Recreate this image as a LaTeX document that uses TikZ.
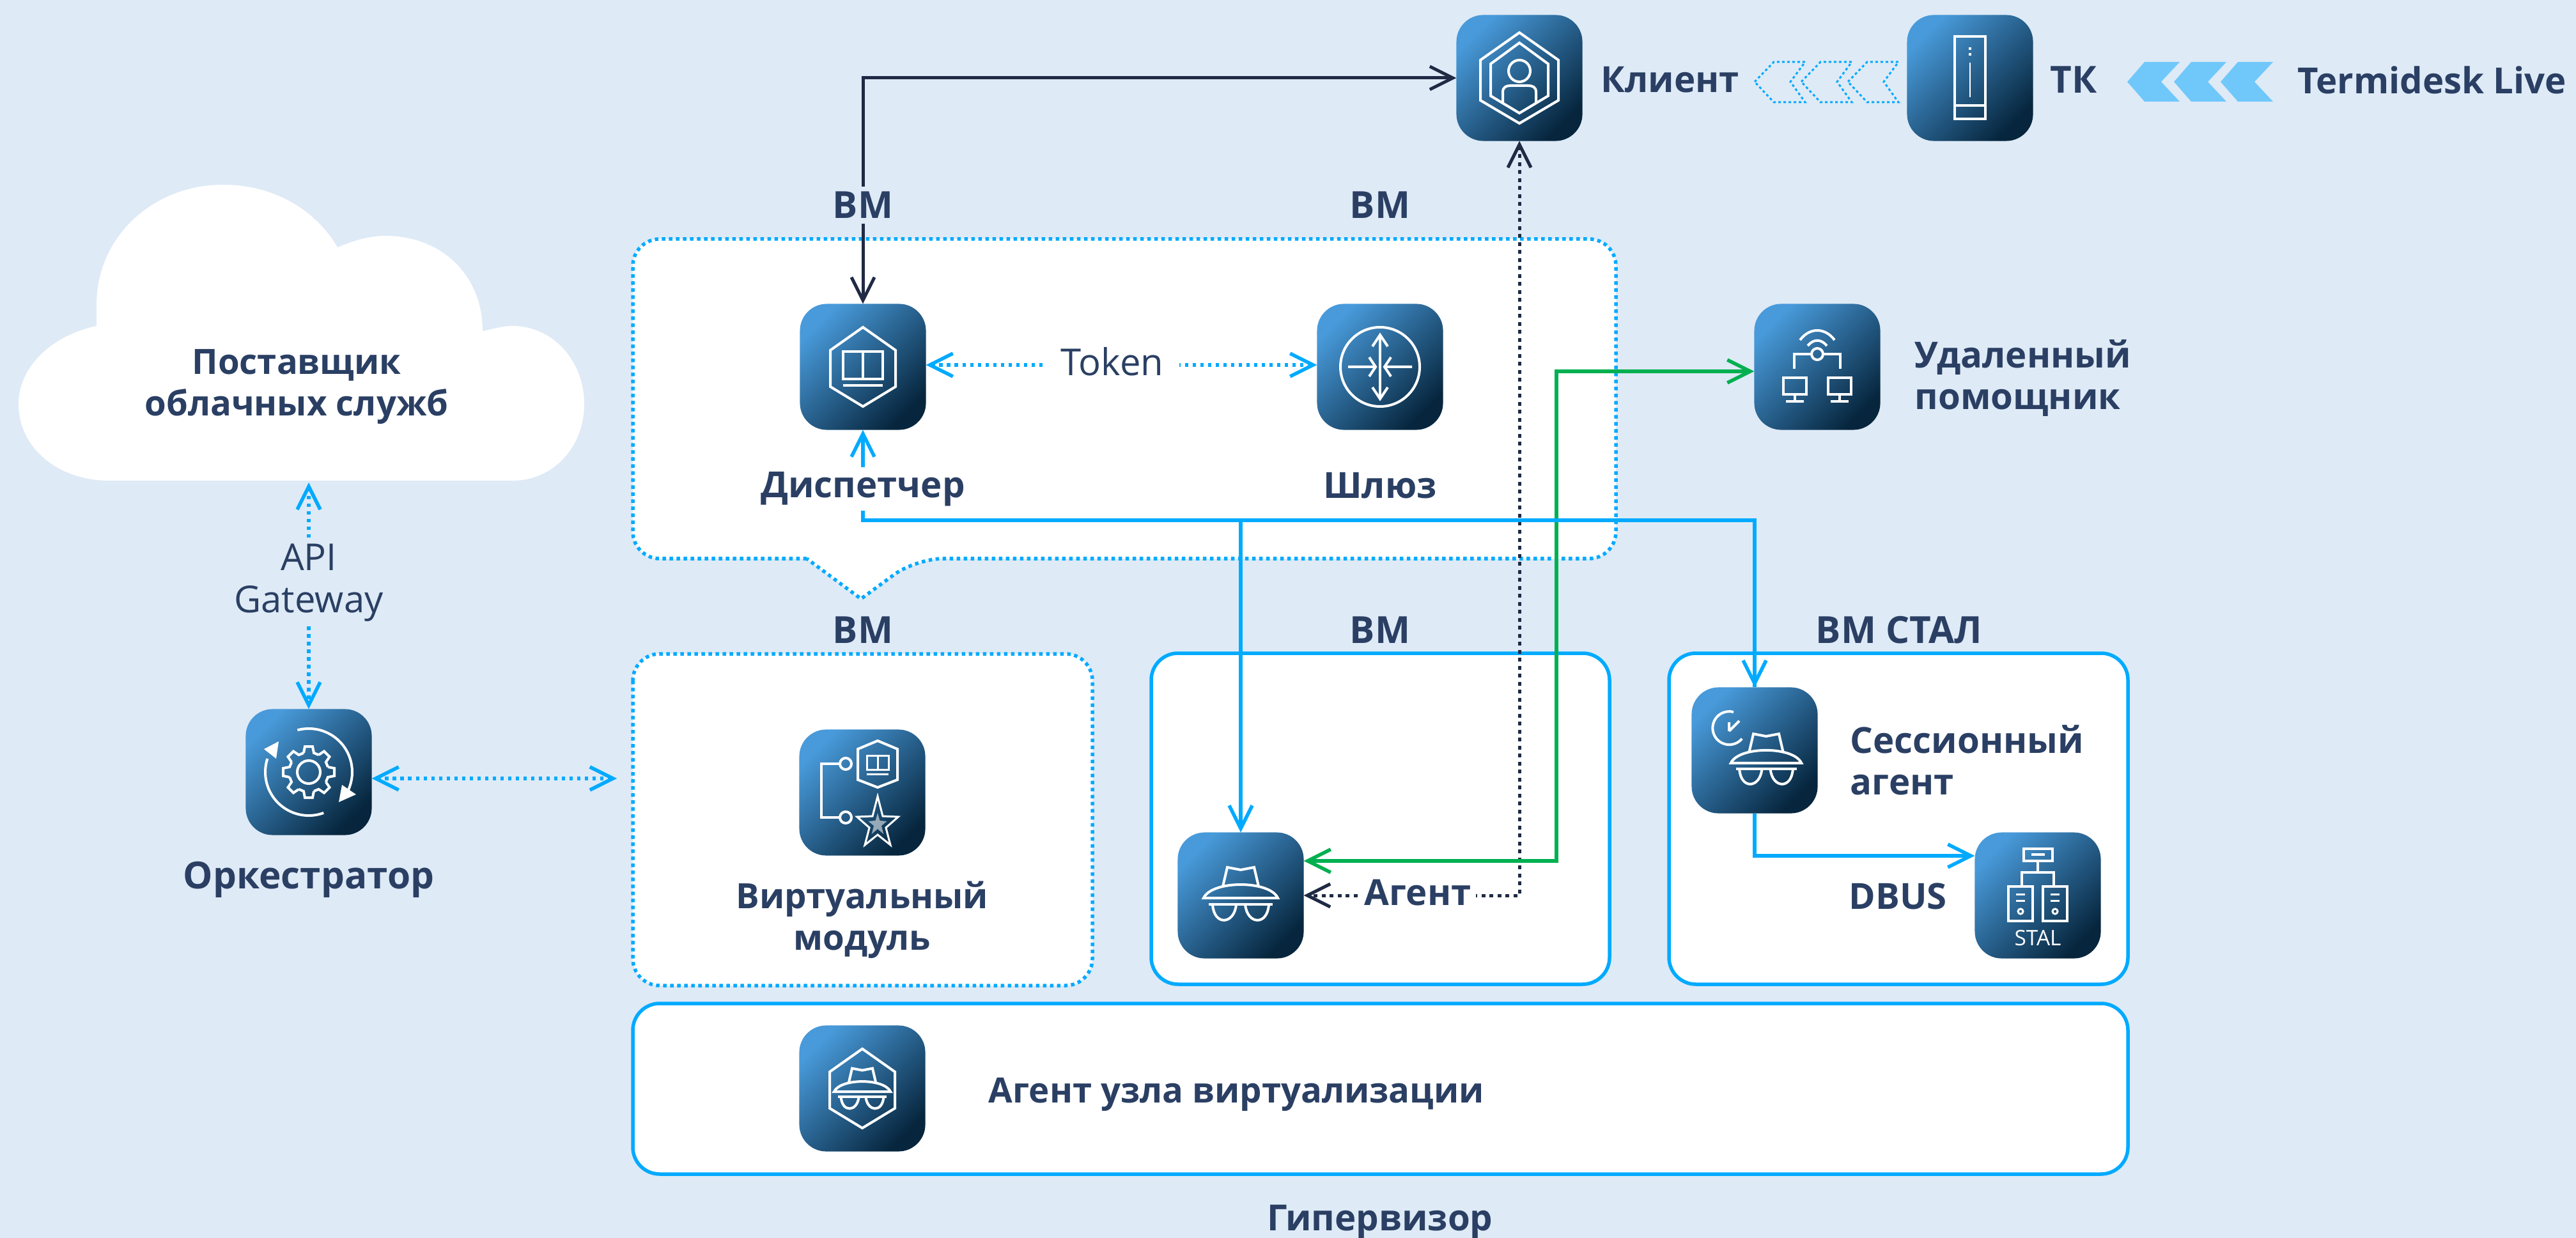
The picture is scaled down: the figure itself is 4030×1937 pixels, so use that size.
\documentclass[tikz,border=0pt]{standalone}
\usepackage{fontspec}
\setmainfont{Open Sans}
\usetikzlibrary{arrows.meta}

\definecolor{pagebg}{HTML}{DEEAF6}
\definecolor{inkblue}{HTML}{2A3F63}
\definecolor{linkblue}{HTML}{00AAFF}
\definecolor{linkdark}{HTML}{1F2A44}
\definecolor{linkgreen}{HTML}{00B050}
\definecolor{chevblue}{HTML}{70C8FA}
\definecolor{icontop}{HTML}{489ADA}
\definecolor{iconmid}{HTML}{26648F}
\definecolor{iconbot}{HTML}{07263E}

\tikzset{
  >={Straight Barb[length=0.36cm,width=0.36cm]},
  iconbox/.style={minimum size=1.97cm, inner sep=0pt, outer sep=0pt, rounded corners=0.42cm,
    top color=icontop, middle color=iconmid, bottom color=iconbot, shading angle=45},
  glyph/.style={draw=white, line width=0.04cm, line join=miter},
  title/.style={font=\fontsize{16}{18.5}\selectfont\bfseries, text=inkblue, align=center, inner sep=0pt},
  titlesmall/.style={title, font=\fontsize{15.5}{18.5}\selectfont\bfseries},
  titlelarge/.style={title, font=\fontsize{16.6}{18.5}\selectfont\bfseries},
  plain/.style={font=\fontsize{16.5}{18.8}\selectfont, text=inkblue, align=center, inner sep=0pt},
  panel/.style={draw=linkblue, fill=white, line width=0.055cm, rounded corners=0.42cm},
  panelfine/.style={panel, dash pattern=on 0.055cm off 0.055cm},
  bluelink/.style={draw=linkblue, line width=0.055cm},
  bluedots/.style={bluelink, dash pattern=on 0.055cm off 0.065cm},
  darklink/.style={draw=linkdark, line width=0.05cm},
  darkdots/.style={darklink, dash pattern=on 0.06cm off 0.065cm},
  greenlink/.style={draw=linkgreen, line width=0.055cm},
}

\newcommand\spyhat{
  \draw[glyph] (-28,-14) -- (-21,-44) -- (0,-40) -- (21,-44) -- (28,-14);
  \draw[glyph] (-58,4) .. controls (-45,-24) and (45,-24) .. (58,4) -- cycle;
  \draw[glyph] (-50,14) -- (50,14);
  \draw[glyph] (-44,14) .. controls (-42,48) and (-10,46) .. (-7,14);
  \draw[glyph] (44,14) .. controls (42,48) and (10,46) .. (7,14);
}
\newcommand\hexfort{
  \draw[glyph] (0,-62) -- (51,-26) -- (51,31) -- (0,62) -- (-51,31) -- (-51,-26) -- cycle;
}
\newcommand\boardglyph{
  \draw[glyph] (-31,-24) rectangle (31,19);
  \draw[glyph] (0,-24) -- (0,19);
  \draw[glyph] (-31,29) -- (31,29);
}

\begin{document}
\begin{tikzpicture}[x=0.01cm,y=-0.01cm]

  \useasboundingbox (0,0) rectangle (4030,1937);
  \fill[pagebg] (0,0) rectangle (4030,1937);

  % cloud
  \fill[white] (171,752) .. controls (90,752) and (29,700) .. (29,632)
    .. controls (29,575) and (80,525) .. (151,510) -- (151,477)
    .. controls (151,370) and (240,289) .. (349,289)
    .. controls (430,289) and (495,330) .. (528,387)
    .. controls (550,378) and (575,369) .. (603,369)
    .. controls (690,369) and (755,430) .. (755,518)
    .. controls (770,515) and (785,510) .. (802,510)
    .. controls (865,510) and (914,565) .. (914,632)
    .. controls (914,700) and (865,752) .. (802,752) -- cycle;

  % panels
  \draw[panelfine] (1262,874) -- (990,874) -- (990,374) -- (2528,374) -- (2528,874) -- (1433,874)
    [sharp corners] -- (1347,937) -- cycle;
  \draw[panelfine] (990,1023) rectangle (1709,1542);
  \draw[panel] (1801,1022) rectangle (2518,1540);
  \draw[panel] (2611,1022) rectangle (3329,1540);
  \draw[panel] (990,1570) rectangle (3329,1837);

  % icons
  \node[iconbox] (client) at (2377,122) {};
  \node[iconbox] (thin) at (3082,122) {};
  \node[iconbox] (disp) at (1350,574) {};
  \node[iconbox] (gate) at (2159,574) {};
  \node[iconbox] (helper) at (2843,574) {};
  \node[iconbox] (orch) at (483,1208) {};
  \node[iconbox] (vmod) at (1349,1240) {};
  \node[iconbox] (agent) at (1941,1401) {};
  \node[iconbox] (sess) at (2745,1174) {};
  \node[iconbox] (stal) at (3188,1401) {};
  \node[iconbox] (hostagent) at (1349,1703) {};

  \coordinate (cloudbase) at (483,755);
  \coordinate (busleft) at (1350,814);
  \coordinate (greenbend) at (2435,1347);
  \coordinate (greentop) at (2435,581);
  \coordinate (vmodin) at (965,1218);
  \coordinate (tokenline) at (1740,571);
  \coordinate (dbusline) at (2745,1339);

  % links
  \draw[darklink,<->] (disp.north) |- (client.west);
  \draw[darkdots,<->] (client.south) |- (agent.east);
  \draw[greenlink,<->] (greenbend -| agent.east) -- (greenbend) -- (greentop) -- (greentop -| helper.west);
  \draw[bluelink,<-] (disp.south) -- (busleft) -| (sess.north);
  \draw[bluelink,->] (sess.north |- busleft) -- (sess.north);
  \draw[bluelink,->] (agent.north |- busleft) -- (agent.north);
  \draw[bluelink,->] (sess.south) -- (dbusline) -- (dbusline -| stal.west);
  \draw[bluedots,<->] (tokenline -| disp.east) -- (tokenline -| gate.west);
  \draw[bluedots,<->] (cloudbase) -- (orch.north);
  \draw[bluedots,<->] (vmodin -| orch.east) -- (vmodin);

  % chevrons
  \foreach \i in {0,73,146} {
    \fill[chevblue] (3328+\i,128) -- (3355+\i,97) -- (3410+\i,97) -- (3381+\i,128) -- (3410+\i,159) -- (3355+\i,159) -- cycle;
    \draw[linkblue, line width=0.03cm, dash pattern=on 0.04cm off 0.04cm]
      (2745+\i,128) -- (2775+\i,97) -- (2824+\i,97) -- (2801+\i,128) -- (2824+\i,160) -- (2775+\i,160) -- cycle;
  }

  % labels
  \node[title, anchor=west] (clientlab) at (2504,125) {Клиент};
  \node[titlelarge, anchor=west] (thinlab) at (3207,125) {ТК};
  \node[title, anchor=west] (livelab) at (3594,125) {Termidesk Live};
  \node[titlelarge, fill=pagebg, inner sep=0.08cm] (vmdisp) at (1350,321) {ВМ};
  \node[titlelarge] (vmgate) at (2159,321) {ВМ};
  \node[title, fill=white, inner sep=0.07cm] (displab) at (1350,765) {Диспетчер};
  \node[title] (gatelab) at (2159,760) {Шлюз};
  \node[plain, fill=white, inner xsep=0.25cm, inner ysep=0.05cm] (tokenlab) at (1740,566) {Token};
  \node[title, anchor=west, align=left] (helperlab) at (2995,592) {Удаленный\\помощник};
  \node[titlesmall] (cloudlab) at (464,605) {Поставщик\\облачных служб};
  \node[plain, fill=pagebg, inner sep=0.07cm] (apilab) at (483,912) {API\\Gateway};
  \node[titlelarge] (orchlab) at (483,1376) {Оркестратор};
  \node[titlelarge] (vmvirt) at (1350,986) {ВМ};
  \node[titlelarge] (vmagent) at (2159,986) {ВМ};
  \node[titlelarge] (vmstal) at (2971,986) {ВМ СТАЛ};
  \node[titlesmall] (vmodlab) at (1349,1439) {Виртуальный\\модуль};
  \node[title, fill=white, inner xsep=0.08cm, inner ysep=0.05cm] (agentlab) at (2218,1397) {Агент};
  \node[title, anchor=west, align=left] (sesslab) at (2894,1189) {Сессионный\\агент};
  \node[title, anchor=west] (dbuslab) at (2892,1402) {DBUS};
  \node[titlesmall, anchor=west] (hostlab) at (1546,1713) {Агент узла виртуализации};
  \node[title] (hyperlab) at (2159,1912) {Гипервизор};

  % client glyph
  \begin{scope}[shift={(client.center)}]
    \draw[glyph] (0,-71) -- (61,-28) -- (61,35) -- (0,71) -- (-61,35) -- (-61,-28) -- cycle;
    \draw[glyph] (0,-55) -- (45,-22) -- (45,28) -- (0,55) -- (-45,28) -- (-45,-22) -- cycle;
    \draw[glyph] (0,-11) circle [radius=17];
    \draw[glyph] (-26,40) -- (-26,22) .. controls (-26,14) and (-20,12) .. (-14,12) -- (14,12) .. controls (20,12) and (26,14) .. (26,22) -- (26,40);
  \end{scope}

  % thin client glyph
  \begin{scope}[shift={(thin.center)}]
    \draw[glyph] (-24,-65) rectangle (24,64);
    \draw[glyph] (-24,43) -- (24,43);
    \draw[glyph] (0,-48) -- (0,-44) (0,-39) -- (0,-35);
    \draw[glyph, line width=0.025cm] (0,-24) -- (0,30);
  \end{scope}

  % dispatcher glyph
  \begin{scope}[shift={(disp.center)}]
    \hexfort
    \boardglyph
  \end{scope}

  % gateway glyph
  \begin{scope}[shift={(gate.center)}]
    \draw[glyph] (0,0) circle [radius=62];
    \draw[glyph] (0,-50) -- (0,50);
    \draw[glyph] (-12,-32) -- (0,-50) -- (12,-32);
    \draw[glyph] (-12,32) -- (0,50) -- (12,32);
    \draw[glyph] (-50,0) -- (-7,0) (-17,-15) -- (-7,0) -- (-17,15);
    \draw[glyph] (50,0) -- (7,0) (17,-15) -- (7,0) -- (17,15);
  \end{scope}

  % helper glyph
  \begin{scope}[shift={(helper.center)}]
    \draw[glyph] (-27,-42) .. controls (-12,-62) and (12,-62) .. (27,-42);
    \draw[glyph] (-15,-33) .. controls (-6,-44) and (6,-44) .. (15,-33);
    \draw[glyph] (0,-20) circle [radius=9];
    \draw[glyph] (-36,3) -- (-36,-20) -- (-9,-20) (9,-20) -- (36,-20) -- (36,3);
    \foreach \m in {-35,35} {
      \draw[glyph] (\m-18,17) rectangle (\m+18,43);
      \draw[glyph] (\m,43) -- (\m,54) (\m-14,54) -- (\m+14,54);
    }
  \end{scope}

  % orchestrator glyph
  \begin{scope}[shift={(orch.center)}]
    \draw[glyph] (0,0) circle [radius=18];
    \foreach \a in {0,45,...,315} {
      \draw[glyph, rotate=\a] (-8,-30) -- (-6,-40) -- (6,-40) -- (8,-30) -- (15.5,-26.8);
    }
    \draw[glyph] (-105:68) arc [start angle=-105, end angle=25, radius=68];
    \draw[glyph] (70:68) arc [start angle=70, end angle=198, radius=68];
    \fill[white] (52,20) -- (74,35) -- (47,47) -- cycle;
    \fill[white] (-47,-48) -- (-70,-36) -- (-51,-21) -- cycle;
  \end{scope}

  % virtual module glyph
  \begin{scope}[shift={(vmod.center)}]
    \draw[glyph] (24,-81) -- (55,-68) -- (55,-20) -- (24,-8) -- (-7,-20) -- (-7,-68) -- cycle;
    \draw[glyph, line width=0.03cm] (7,-58) rectangle (41,-36);
    \draw[glyph, line width=0.03cm] (24,-58) -- (24,-36) (7,-29) -- (41,-29);
    \draw[glyph] (-26,-45) circle [radius=9];
    \draw[glyph] (-26,39) circle [radius=9];
    \draw[glyph] (-35,-45) -- (-64,-45) -- (-64,39) -- (-35,39);
    \begin{scope}[shift={(24,50)}, xscale=0.85]
      \draw[glyph, line width=0.03cm] (0,-44) -- (9.4,-13) -- (38,-12) -- (15.2,5) -- (23.5,32) -- (0,16) -- (-23.5,32) -- (-15.2,5) -- (-38,-12) -- (-9.4,-13) -- cycle;
      \fill[white, opacity=0.55] (0,-18) -- (4,-6) -- (17,-5) -- (7,2) -- (11,15) -- (0,7) -- (-11,15) -- (-7,2) -- (-17,-5) -- (-4,-6) -- cycle;
    \end{scope}
  \end{scope}

  % agent glyphs
  \begin{scope}[shift={(agent.center)}]
    \spyhat
  \end{scope}
  \begin{scope}[shift={(sess.center)}]
    \begin{scope}[shift={(18,16)}, scale=0.95]
      \spyhat
    \end{scope}
    \draw[glyph] (-33,-60) arc [start angle=-75, end angle=-320, radius=26];
    \draw[glyph] (-40,-30) -- (-40,-44) (-40,-30) -- (-24,-46);
  \end{scope}
  \begin{scope}[shift={(hostagent.center)}]
    \hexfort
    \begin{scope}[shift={(0,2)}, scale=0.76]
      \spyhat
    \end{scope}
  \end{scope}

  % stal glyph
  \begin{scope}[shift={(stal.center)}]
    \draw[glyph] (-22,-73) rectangle (23,-54);
    \draw[glyph] (-10,-64) -- (11,-64);
    \draw[glyph] (0,-54) -- (0,-36) (-25,-14) -- (-25,-36) -- (25,-36) -- (25,-14);
    \foreach \m in {-27,27} {
      \draw[glyph] (\m-19,-14) rectangle (\m+19,40);
      \draw[glyph, line width=0.03cm] (\m-7,-2) -- (\m+7,-2) (\m-7,8) -- (\m+7,8);
      \draw[glyph, line width=0.03cm] (\m,25) circle [radius=4];
    }
    \node[font=\fontsize{9.5}{11}\selectfont, text=white, inner sep=0pt] (stallab) at (0,67) {STAL};
  \end{scope}

\end{tikzpicture}
\end{document}
